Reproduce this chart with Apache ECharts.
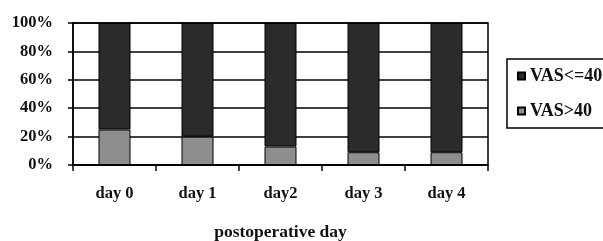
<!DOCTYPE html>
<html>
<head>
<meta charset="utf-8">
<script src="https://cdn.jsdelivr.net/npm/echarts@6/dist/echarts.min.js"></script>
<style>
html,body{margin:0;padding:0;background:#fff;}
#main{width:603px;height:241px;}
</style>
</head>
<body>
<div id="main"></div>
<script>
var days = ['day 0', 'day 1', 'day2', 'day 3', 'day 4'];
var vasOver40 = [25, 20, 13, 9, 9];
var vasUnder40 = [75, 80, 87, 91, 91];
var yTicks = ['0%', '20%', '40%', '60%', '80%', '100%'];

var serif = 'Liberation Serif';
var chart = echarts.init(document.getElementById('main'));

option = {
    animation: false,
    backgroundColor: '#fff',
    grid: {
        left: 73, top: 23, width: 415, height: 142,
        outerBoundsMode: 'none',
        containLabel: false,
        show: true, borderColor: '#000', borderWidth: 1.5, backgroundColor: 'transparent'
    },
    legend: {
        orient: 'vertical',
        left: 507, top: 59,
        width: 120, height: 67,
        padding: [8, 40, 8, 10],
        itemWidth: 7, itemHeight: 7, itemGap: 17,
        borderColor: '#000', borderWidth: 1.5,
        icon: 'rect',
        data: ['VAS<=40', 'VAS>40'],
        textStyle: {fontFamily: serif, fontWeight: 'bold', fontSize: 18, color: '#111'}
    },
    xAxis: {
        type: 'category',
        data: days,
        name: 'postoperative day',
        nameLocation: 'middle',
        nameGap: 58,
        nameTextStyle: {fontFamily: serif, fontWeight: 'bold', fontSize: 17.5, color: '#111'},
        axisLine: {lineStyle: {color: '#000', width: 1.5}},
        axisTick: {show: true, length: 6, lineStyle: {color: '#000', width: 1.5}},
        axisLabel: {fontFamily: serif, fontWeight: 'bold', fontSize: 16.5, color: '#111', margin: 20}
    },
    yAxis: {
        type: 'value',
        min: 0, max: 100, interval: 20,
        axisLine: {show: true, lineStyle: {color: '#000', width: 1.5}},
        axisTick: {show: true, length: 5, lineStyle: {color: '#000', width: 1.5}},
        splitLine: {lineStyle: {color: '#000', width: 1.5}},
        axisLabel: {
            fontFamily: serif, fontWeight: 'bold', fontSize: 16.5, color: '#111', margin: 20,
            formatter: function (v) { return yTicks[v / 20]; }
        }
    },
    series: [
        {
            name: 'VAS>40', type: 'bar', stack: 'a', barWidth: 32,
            data: vasOver40,
            itemStyle: {color: '#8e8e8e', borderColor: '#000', borderWidth: 1}
        },
        {
            name: 'VAS<=40', type: 'bar', stack: 'a', barWidth: 32,
            data: vasUnder40,
            itemStyle: {color: '#2b2b2b', borderColor: '#000', borderWidth: 1}
        }
    ]
};
chart.setOption(option);
</script>
</body>
</html>
